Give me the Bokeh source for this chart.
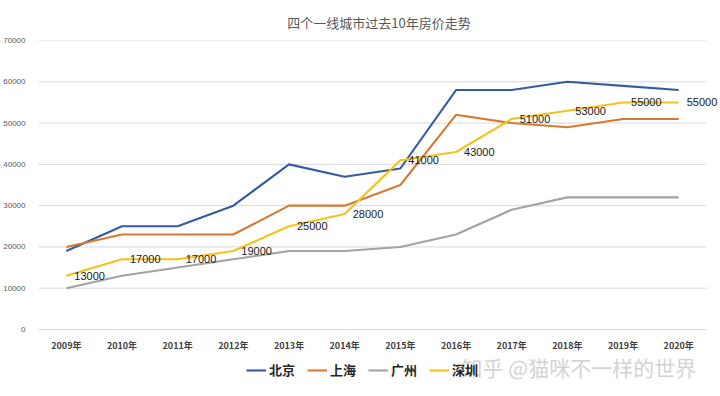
from bokeh.plotting import figure
from bokeh.models import (ColumnDataSource, Range1d, Legend, LegendItem,
                          LabelSet, Label, FixedTicker, NumeralTickFormatter)
from bokeh.core.properties import value
from bokeh.embed import file_html
from bokeh.resources import INLINE

years = ["2009年", "2010年", "2011年", "2012年", "2013年", "2014年",
         "2015年", "2016年", "2017年", "2018年", "2019年", "2020年"]
beijing = [19000, 25000, 25000, 30000, 40000, 37000, 39000, 58000, 58000, 60000, 59000, 58000]
shanghai = [20000, 23000, 23000, 23000, 30000, 30000, 35000, 52000, 50000, 49000, 51000, 51000]
guangzhou = [10000, 13000, 15000, 17000, 19000, 19000, 20000, 23000, 29000, 32000, 32000, 32000]
shenzhen = [13000, 17000, 17000, 19000, 25000, 28000, 41000, 43000, 51000, 53000, 55000, 55000]
y_ticks = [0, 10000, 20000, 30000, 40000, 50000, 60000, 70000]
series_names = ["北京", "上海", "广州", "深圳"]
colors = ["#345c9e", "#d47a35", "#a3a3a3", "#f2c31c"]
title_text = "四个一线城市过去10年房价走势"
watermark = "知乎 @猫咪不一样的世界"

CJK = "Noto Sans CJK SC"
idx = list(range(len(years)))
n = len(years)

# frame extends below the zero line to hold the category labels and the legend
p = figure(frame_width=681, frame_height=347, x_range=Range1d(-0.5, n - 0.5 + 0.233),
           y_range=Range1d(-14048, 70000),
           output_backend="svg", toolbar_location=None,
           min_border_left=31, min_border_right=0, min_border_top=40, min_border_bottom=0)
p.title.text = title_text
p.title.align = "center"
p.title.offset = -7
p.title.standoff = 17
p.title.text_font = CJK
p.title.text_font_size = "13px"
p.title.text_font_style = "normal"
p.title.text_color = "#595959"
p.outline_line_color = None
p.background_fill_color = "white"
p.border_fill_color = "white"

p.xgrid.grid_line_color = None
p.ygrid.grid_line_color = None
p.segment(x0=[-0.5] * len(y_ticks), x1=[n - 0.5] * len(y_ticks), y0=y_ticks, y1=y_ticks,
          line_color="#d9d9d9", line_width=1)

src = ColumnDataSource(dict(x=idx, bj=beijing, sh=shanghai, gz=guangzhou, sz=shenzhen,
                            szl=[str(v) for v in shenzhen], yr=years, zero=[0] * n))
renderers = []
for key, c in zip(["bj", "sh", "gz", "sz"], colors):
    r = p.line("x", key, source=src, line_color=c, line_width=2.1)
    renderers.append(r)

labels = LabelSet(x="x", y="sz", text="szl", source=src, x_offset=8, y_offset=0,
                  text_baseline="middle", text_align="left", text_font_size="11px",
                  text_color="#1a1a1a", text_font=value("Liberation Sans"))
p.add_layout(labels)

# category labels under the zero line
p.text(x="x", y="zero", text="yr", source=src, y_offset=16, text_align="center",
       text_baseline="middle", text_font=value(CJK), text_font_size="9px",
       text_font_style="bold", text_color="#404040")

p.xaxis.visible = False
p.yaxis.ticker = FixedTicker(ticks=y_ticks)
p.yaxis.formatter = NumeralTickFormatter(format="0")
p.yaxis.axis_line_color = None
p.yaxis.major_tick_line_color = None
p.yaxis.minor_tick_line_color = None
p.yaxis.major_label_text_font_size = "8px"
p.yaxis.major_label_text_color = "#595959"
p.yaxis.major_label_text_font = "Liberation Sans"
p.yaxis.major_label_standoff = 7

wm = Label(x=7.1, y=-9200, text=watermark, text_font=CJK, text_font_size="21px",
           text_baseline="middle", text_color="#c4c4c4", text_alpha=0.75)
p.add_layout(wm)

legend = Legend(items=[LegendItem(label=nm, renderers=[r]) for nm, r in zip(series_names, renderers)],
                orientation="horizontal", location=(208, 8), border_line_color=None,
                background_fill_alpha=0, label_text_font=CJK, label_text_font_size="13px",
                label_text_font_style="bold", label_text_color="#262626",
                glyph_width=20, glyph_height=14, label_height=16, label_standoff=3,
                spacing=12, padding=2, margin=0)
p.add_layout(legend)

open("out.html", "w").write(file_html(p, INLINE))
